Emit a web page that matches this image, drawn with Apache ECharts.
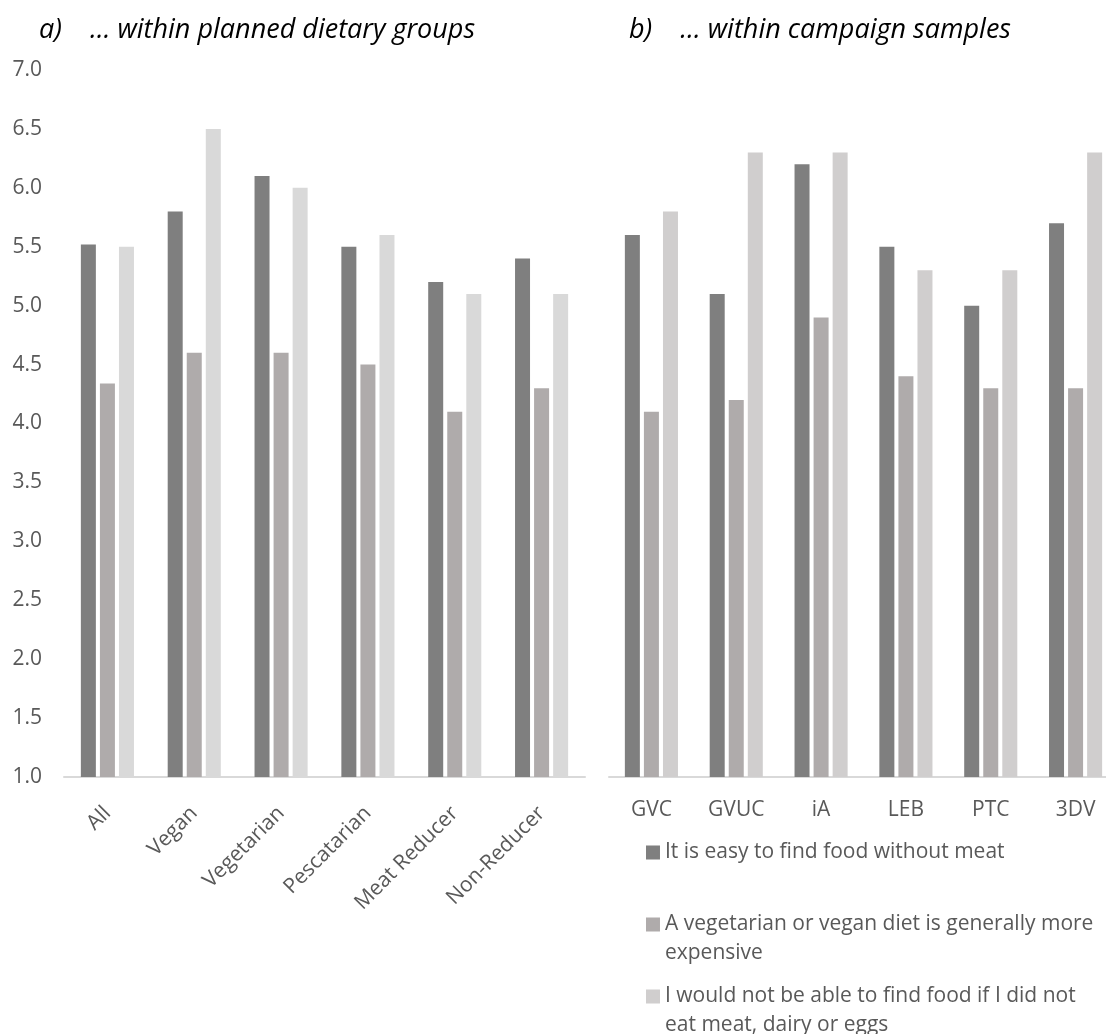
<!DOCTYPE html>
<html>
<head>
<meta charset="utf-8">
<script src="https://cdn.jsdelivr.net/npm/echarts@6/dist/echarts.min.js"></script>
<style>
html,body{margin:0;padding:0;background:#fff;overflow:hidden;width:1106px;height:1034px;}
#chart{width:1130px;height:1034px;}
</style>
</head>
<body>
<div id="chart"></div>
<script>
// ---- data ----
const groups = ['All', 'Vegan', 'Vegetarian', 'Pescatarian', 'Meat Reducer', 'Non-Reducer'];
const campaigns = ['GVC', 'GVUC', 'iA', 'LEB', 'PTC', '3DV'];
const seriesNames = [
  'It is easy to find food without meat',
  'A vegetarian or vegan diet is generally more expensive',
  'I would not be able to find food if I did not eat meat, dairy or eggs'
];
const easyA = [5.52, 5.8, 6.1, 5.5, 5.2, 5.4];
const expensiveA = [4.34, 4.6, 4.6, 4.5, 4.1, 4.3];
const notAbleA = [5.5, 6.5, 6.0, 5.6, 5.1, 5.1];
const easyB = [5.6, 5.1, 6.2, 5.5, 5.0, 5.7];
const expensiveB = [4.1, 4.2, 4.9, 4.4, 4.3, 4.3];
const notAbleB = [5.8, 6.3, 6.3, 5.3, 5.3, 6.3];
const titleA = 'a)    \u2026 within planned dietary groups';
const titleB = 'b)    \u2026 within campaign samples';

// ---- styles ----
const colDark = '#7f7f7f', colMid = '#afabab', colLightA = '#d9d9d9', colLightB = '#d0cece';
const font = 'Open Sans';
const txt = '#595959';
const fs = 21;
const legendLines = {};
legendLines[seriesNames[0]] = 'It is easy to find food without meat\n ';
legendLines[seriesNames[1]] = 'A vegetarian or vegan diet is generally more\nexpensive';
legendLines[seriesNames[2]] = 'I would not be able to find food if I did not\neat meat, dairy or eggs';
const iconPath = 'path://M0,0L14,0L14,14L0,14Z M0,43L0.05,43L0.05,43.05L0,43.05Z';

const chart = echarts.init(document.getElementById('chart'));

function bar(name, data, color, idx) {
  return {
    name: name, type: 'bar', data: data,
    xAxisIndex: idx, yAxisIndex: idx,
    barWidth: 15, barGap: '27%',
    itemStyle: {color: color},
    emphasis: {disabled: true},
    animation: false
  };
}

const yBase = {
  type: 'value', min: 1, max: 7, interval: 0.5,
  splitLine: {show: false}, axisTick: {show: false}, axisLine: {show: false}
};
const titleStyle = {fontFamily: font, fontStyle: 'italic', fontWeight: 'normal', fontSize: 27, color: '#000'};

chart.setOption({
  animation: false,
  title: [
    {text: titleA, left: 34, top: 12, textStyle: titleStyle},
    {text: titleB, left: 624, top: 12, textStyle: titleStyle}
  ],
  grid: [
    {left: 64, top: 70, width: 521, height: 707},
    {left: 609, top: 70, width: 509, height: 707}
  ],
  xAxis: [
    {type: 'category', gridIndex: 0, data: groups,
     axisLine: {lineStyle: {color: '#d9d9d9', width: 2}}, axisTick: {show: false},
     axisLabel: {rotate: 45, margin: 33, color: txt, fontFamily: font, fontSize: fs, interval: 0}},
    {type: 'category', gridIndex: 1, data: campaigns,
     axisLine: {lineStyle: {color: '#d9d9d9', width: 2}}, axisTick: {show: false},
     axisLabel: {margin: 23, color: txt, fontFamily: font, fontSize: fs, interval: 0}}
  ],
  yAxis: [
    Object.assign({}, yBase, {gridIndex: 0,
      axisLabel: {margin: 22, color: txt, fontFamily: font, fontSize: fs, formatter: v => v.toFixed(1)}}),
    Object.assign({}, yBase, {gridIndex: 1, axisLabel: {show: false}})
  ],
  legend: {
    orient: 'vertical', left: 646, top: 838, height: 300, padding: 0,
    itemWidth: 14, itemHeight: 43, itemGap: 14,
    icon: iconPath,
    selectedMode: false,
    data: [
      {name: seriesNames[0], itemStyle: {color: colDark}},
      {name: seriesNames[1], itemStyle: {color: colMid}},
      {name: seriesNames[2], itemStyle: {color: colLightB}}
    ],
    formatter: n => legendLines[n],
    textStyle: {fontFamily: font, fontSize: fs, color: txt, lineHeight: 29}
  },
  series: [
    bar(seriesNames[0], easyA, colDark, 0),
    bar(seriesNames[1], expensiveA, colMid, 0),
    bar(seriesNames[2], notAbleA, colLightA, 0),
    bar(seriesNames[0], easyB, colDark, 1),
    bar(seriesNames[1], expensiveB, colMid, 1),
    bar(seriesNames[2], notAbleB, colLightB, 1)
  ]
});
</script>
</body>
</html>
